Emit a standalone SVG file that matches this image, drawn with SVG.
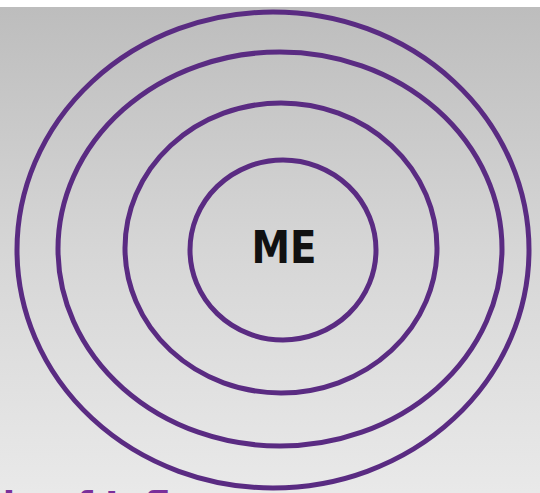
<svg xmlns="http://www.w3.org/2000/svg" width="540" height="493" viewBox="0 0 540 493">
  <defs>
    <linearGradient id="bg" x1="0" y1="0" x2="0" y2="1">
      <stop offset="0" stop-color="#bdbdbd"/>
      <stop offset="0.5" stop-color="#d6d6d6"/>
      <stop offset="1" stop-color="#e9e9e9"/>
    </linearGradient>
    <style>
      .ring { fill: none; stroke: #5a2b82; stroke-width: 5; }
      .me { font-family: "DejaVu Sans", Verdana, sans-serif; font-weight: bold; font-size: 45px; fill: #111111; }
      .cap { font-family: "DejaVu Sans", Verdana, sans-serif; font-weight: bold; font-size: 36px; fill: #7a2f9a; }
    </style>
  </defs>
  <rect x="0" y="0" width="540" height="493" fill="#ffffff"/>
  <rect x="0" y="7" width="540" height="486" fill="url(#bg)"/>
  <g id="ring1"><ellipse class="ring" cx="273" cy="250" rx="256" ry="238"/></g>
  <g id="ring2"><ellipse class="ring" cx="280" cy="249" rx="222" ry="197"/></g>
  <g id="ring3"><ellipse class="ring" cx="281" cy="248" rx="156" ry="145"/></g>
  <g id="ring4"><ellipse class="ring" cx="283" cy="250" rx="93" ry="90"/></g>
  <g id="me"><text class="me" x="284" y="263" text-anchor="middle" textLength="65" lengthAdjust="spacingAndGlyphs">ME</text></g>
  <g id="connectors"></g>
  <text class="cap" x="-75" y="517">Circle of Influence</text>
</svg>
